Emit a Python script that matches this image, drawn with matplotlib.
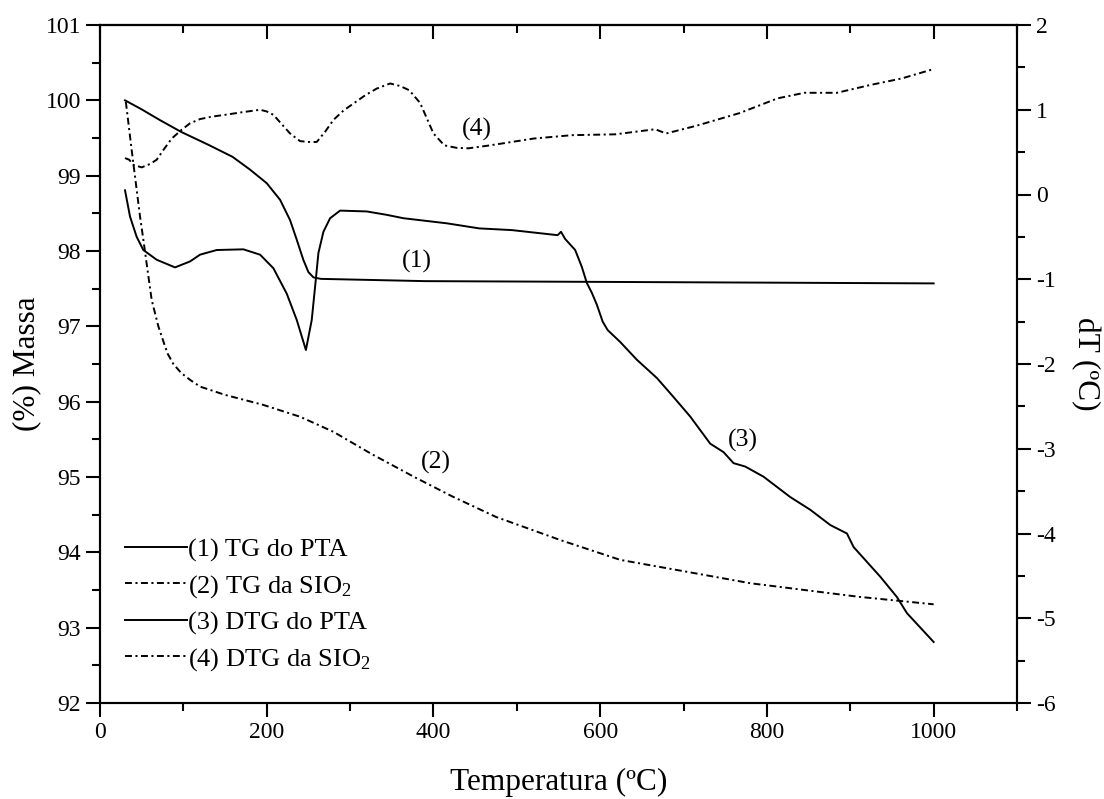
import matplotlib
matplotlib.use("Agg")
import matplotlib.pyplot as plt
from matplotlib.ticker import MultipleLocator

plt.rcParams['font.family'] = ['Liberation Serif', 'DejaVu Serif']
plt.rcParams['mathtext.default'] = 'regular'
plt.rcParams['lines.scale_dashes'] = False
plt.rcParams['axes.unicode_minus'] = False

# (1) TG do PTA  (left axis, % mass)
t1 = [30, 50, 71.5, 97.5, 130, 159, 180, 200, 216, 228, 236, 244, 250, 256, 265, 390, 600, 800, 1000]
m1 = [100.0, 99.88, 99.74, 99.58, 99.41, 99.25, 99.08, 98.90, 98.68, 98.41, 98.15, 97.88, 97.72, 97.65, 97.63, 97.60, 97.59, 97.58, 97.57]

# (2) TG da SiO2  (left axis, % mass)
t2 = [31, 38, 48, 52, 62, 70, 76, 81, 88, 97.5, 108, 120, 150, 195, 240, 280, 325, 377, 423, 475, 553, 624, 715, 780, 845, 910, 1000]
m2 = [99.98, 99.34, 98.46, 98.15, 97.35, 97.00, 96.80, 96.64, 96.50, 96.38, 96.29, 96.20, 96.09, 95.96, 95.80, 95.60, 95.31, 95.00, 94.74, 94.47, 94.16, 93.90, 93.72, 93.59, 93.50, 93.41, 93.31]

# (3) DTG do PTA  (right axis, dT)
t3 = [30, 36, 44, 52, 68, 90, 108, 120, 140, 172, 192, 208, 224, 236, 247, 254, 258, 262, 268, 276, 288, 320, 344, 364, 416, 455, 494,
      549, 553, 558, 570, 578, 584, 590, 596, 603, 609, 624, 644, 668, 688, 708, 732, 748, 760, 774, 796, 828, 852, 876, 896, 904, 936, 956, 968, 1000]
d3 = [0.05, -0.26, -0.50, -0.655, -0.77, -0.86, -0.79, -0.71, -0.655, -0.647, -0.71, -0.87, -1.17, -1.48, -1.835, -1.48, -1.09, -0.69, -0.44, -0.28, -0.19, -0.20, -0.24, -0.28, -0.34, -0.40, -0.42,
      -0.48, -0.44, -0.525, -0.655, -0.855, -1.044, -1.16, -1.30, -1.50, -1.60, -1.74, -1.95, -2.165, -2.39, -2.62, -2.94, -3.04, -3.17, -3.21, -3.33, -3.57, -3.72, -3.90, -4.00, -4.16, -4.51, -4.75, -4.94, -5.28]

# (4) DTG da SiO2  (right axis, dT)
t4 = [30, 35, 40, 50, 60, 68, 76, 86, 97.5, 108, 120, 135, 150, 170, 192, 200, 208, 218, 228, 240, 250, 260, 270, 280, 292, 305, 318, 332, 348,
      360, 371, 384, 392, 400, 413, 428, 442, 468, 520, 566, 618, 666, 679, 715, 767, 813, 845, 884, 923, 962, 1000]
d4 = [0.43, 0.41, 0.35, 0.32, 0.36, 0.41, 0.525, 0.66, 0.76, 0.84, 0.89, 0.92, 0.94, 0.97, 1.00, 0.98, 0.94, 0.83, 0.72, 0.63, 0.62, 0.62, 0.74, 0.88, 0.99, 1.08, 1.17, 1.25, 1.31,
      1.28, 1.23, 1.08, 0.90, 0.72, 0.58, 0.55, 0.545, 0.58, 0.66, 0.70, 0.71, 0.77, 0.72, 0.81, 0.96, 1.135, 1.20, 1.20, 1.29, 1.37, 1.48]

legend_labels = ['(1) TG do PTA', '(2) TG da SIO$_2$', '(3) DTG do PTA', '(4) DTG da SIO$_2$']

fig = plt.figure(figsize=(11.04, 7.99), dpi=100)
ax = fig.add_axes([100/1104, 1-703/799, 917/1104, 678/799])
ax2 = ax.twinx()

lw = 1.4
dd = (5, 2.5, 1.5, 2.5)
l1, = ax.plot(t1, m1, color='black', lw=lw)
l2, = ax.plot(t2, m2, color='black', lw=lw, linestyle=(0, dd))
l3, = ax2.plot(t3, d3, color='black', lw=lw)
l4, = ax2.plot(t4, d4, color='black', lw=lw, linestyle=(0, dd))

ax.set_xlim(0, 1100)
ax.set_ylim(92, 101)
ax2.set_ylim(-6, 2)

ax.xaxis.set_major_locator(MultipleLocator(200))
ax.xaxis.set_minor_locator(MultipleLocator(100))
ax.yaxis.set_major_locator(MultipleLocator(1))
ax.yaxis.set_minor_locator(MultipleLocator(0.5))
ax2.yaxis.set_major_locator(MultipleLocator(1))
ax2.yaxis.set_minor_locator(MultipleLocator(0.5))

fs = 17
for a in (ax, ax2):
    for s in a.spines.values():
        s.set_linewidth(1.5)
ax.tick_params(axis='x', which='both', direction='out', bottom=True, top=False, labelsize=fs, width=1.5)
ax.tick_params(axis='y', which='both', direction='out', left=True, right=False, labelsize=fs, width=1.5)
ax.tick_params(which='major', length=10)
ax.tick_params(which='minor', length=5.5)
ax2.tick_params(axis='y', which='both', direction='out', labelsize=fs, width=1.5)
ax2.tick_params(which='major', length=10)
ax2.tick_params(which='minor', length=5.5)

# top inward ticks via secondary axis
axt = ax.secondary_xaxis('top')
axt.xaxis.set_major_locator(MultipleLocator(200))
axt.xaxis.set_minor_locator(MultipleLocator(100))
axt.tick_params(which='both', direction='in', labeltop=False, width=1.5)
axt.tick_params(which='major', length=10)
axt.tick_params(which='minor', length=5.5)
axt.spines['top'].set_linewidth(1.5)

lfs = 22.5
ax.set_xlabel('Temperatura (ºC)', fontsize=lfs, labelpad=18)
ax.set_ylabel('(%) Massa', fontsize=lfs, labelpad=3)
ax2.set_ylabel('dT (ºC)', fontsize=lfs, rotation=270, labelpad=32)

cfs = 18.5
ax.text(380, 97.86, '(1)', fontsize=cfs, ha='center', va='center')
ax.text(403, 95.19, '(2)', fontsize=cfs, ha='center', va='center')
ax2.text(771, -2.90, '(3)', fontsize=cfs, ha='center', va='center')
ax.text(452, 99.61, '(4)', fontsize=cfs, ha='center', va='center')

leg = ax2.legend([l1, l2, l3, l4], legend_labels, loc='upper left',
                 bbox_to_anchor=((125-100)/917, (703-538)/678), frameon=False,
                 fontsize=19, handlelength=2.35, handletextpad=0.05,
                 borderpad=0, borderaxespad=0, labelspacing=0.42)

fig.savefig('out.png', dpi=100)
